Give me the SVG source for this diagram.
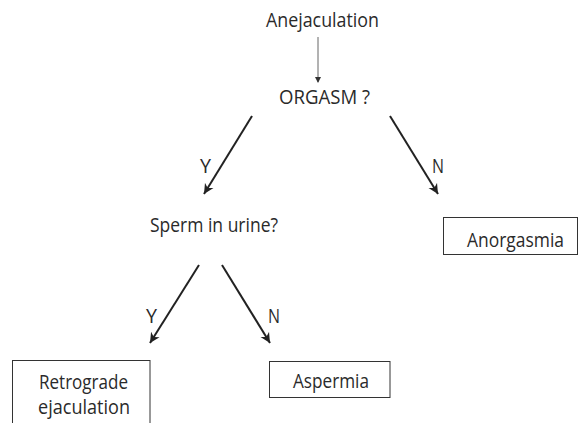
<svg xmlns="http://www.w3.org/2000/svg" width="579" height="423" viewBox="0 0 579 423">
<style>
text{font-family:"Open Sans","Liberation Sans",sans-serif;font-size:19.5px;fill:#2a2a2a}
.box{fill:#fff;stroke:#333;stroke-width:1}
.arr{stroke:#222;stroke-width:2;fill:none;marker-end:url(#ah)}
.thin{stroke:#666;stroke-width:1;fill:none;marker-end:url(#ahs)}
</style>
<defs>
<marker id="ah" markerUnits="userSpaceOnUse" markerWidth="12" markerHeight="12" refX="10" refY="5" orient="auto" viewBox="0 0 12 10">
<path d="M0,0 L10,5 L0,10 L3,5 Z" fill="#222"/>
</marker>
<marker id="ahs" markerUnits="userSpaceOnUse" markerWidth="6" markerHeight="6" refX="5" refY="3" orient="auto" viewBox="0 0 6 6">
<path d="M0,0 L6,3 L0,6 Z" fill="#333"/>
</marker>
</defs>
<g id="connectors">
<line class="thin" x1="318" y1="37" x2="318" y2="82"/>
<line class="arr" x1="252" y1="116" x2="204" y2="194"/>
<line class="arr" x1="390" y1="116" x2="438" y2="194"/>
<line class="arr" x1="199" y1="265" x2="150" y2="343"/>
<line class="arr" x1="222" y1="265" x2="270" y2="343"/>
<text x="200" y="173" textLength="11" lengthAdjust="spacingAndGlyphs">Y</text>
<text x="432" y="173" textLength="12" lengthAdjust="spacingAndGlyphs">N</text>
<text x="146" y="323" textLength="11" lengthAdjust="spacingAndGlyphs">Y</text>
<text x="268" y="323" textLength="12" lengthAdjust="spacingAndGlyphs">N</text>
</g>
<g id="anejaculation">
<text x="266" y="27" textLength="113" lengthAdjust="spacingAndGlyphs">Anejaculation</text>
</g>
<g id="orgasm">
<text x="279" y="104" textLength="91" lengthAdjust="spacingAndGlyphs">ORGASM ?</text>
</g>
<g id="sperm">
<text x="150" y="232" textLength="128" lengthAdjust="spacingAndGlyphs">Sperm in urine?</text>
</g>
<g id="anorgasmia">
<rect class="box" x="443.5" y="217.5" width="134" height="37"/>
<text x="467" y="247" textLength="97" lengthAdjust="spacingAndGlyphs">Anorgasmia</text>
</g>
<g id="aspermia">
<rect class="box" x="269.5" y="361.5" width="120.5" height="36"/>
<text x="293" y="388" textLength="76" lengthAdjust="spacingAndGlyphs">Aspermia</text>
</g>
<g id="retrograde">
<rect class="box" x="12.5" y="360.5" width="137.5" height="80"/>
<text x="39" y="389" textLength="89" lengthAdjust="spacingAndGlyphs">Retrograde</text>
<text x="38" y="414" textLength="92" lengthAdjust="spacingAndGlyphs">ejaculation</text>
</g>
</svg>
